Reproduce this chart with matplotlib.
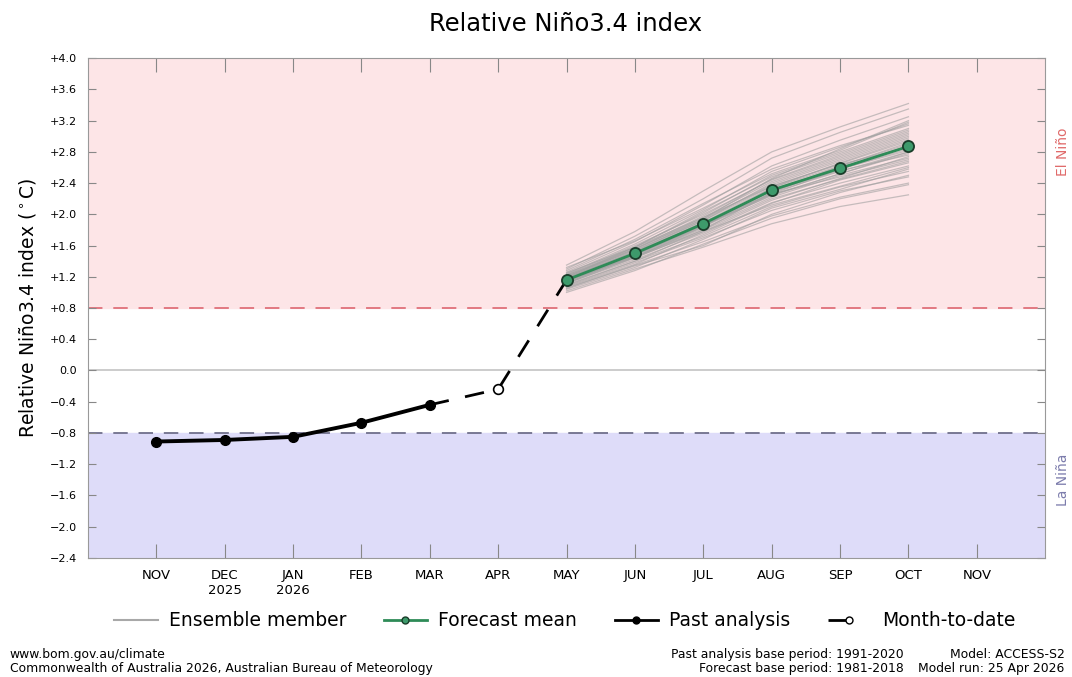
import matplotlib
matplotlib.use('Agg')
import matplotlib.pyplot as plt
from matplotlib.lines import Line2D
from matplotlib.ticker import FuncFormatter

# months on the x axis (0 = NOV 2025 ... 12 = NOV 2026)
month_labels = ['NOV', 'DEC\n2025', 'JAN\n2026', 'FEB', 'MAR', 'APR', 'MAY',
                'JUN', 'JUL', 'AUG', 'SEP', 'OCT', 'NOV']

past_months = [0, 1, 2, 3, 4]
past_values = [-0.91, -0.89, -0.85, -0.67, -0.44]

mtd_month = [5]
mtd_value = [-0.24]

forecast_months = [6, 7, 8, 9, 10, 11]
forecast_mean = [1.16, 1.50, 1.88, 2.31, 2.59, 2.87]

# ensemble members, MAY..OCT
ensemble_members = [
    [1.02, 1.30, 1.58, 1.88, 2.10, 2.25],
    [1.05, 1.35, 1.65, 1.98, 2.22, 2.40],
    [1.08, 1.38, 1.70, 2.05, 2.30, 2.48],
    [1.10, 1.40, 1.72, 2.10, 2.35, 2.55],
    [1.12, 1.42, 1.76, 2.15, 2.40, 2.62],
    [1.13, 1.44, 1.80, 2.20, 2.45, 2.68],
    [1.14, 1.46, 1.82, 2.22, 2.50, 2.72],
    [1.15, 1.47, 1.84, 2.25, 2.52, 2.78],
    [1.15, 1.48, 1.85, 2.28, 2.55, 2.80],
    [1.16, 1.49, 1.86, 2.30, 2.58, 2.84],
    [1.16, 1.50, 1.88, 2.32, 2.60, 2.88],
    [1.17, 1.51, 1.90, 2.34, 2.62, 2.90],
    [1.18, 1.52, 1.92, 2.36, 2.65, 2.94],
    [1.18, 1.53, 1.94, 2.38, 2.68, 2.98],
    [1.19, 1.55, 1.96, 2.42, 2.72, 3.02],
    [1.20, 1.56, 1.98, 2.45, 2.76, 3.06],
    [1.22, 1.58, 2.02, 2.50, 2.80, 3.10],
    [1.24, 1.62, 2.06, 2.55, 2.86, 3.16],
    [1.26, 1.65, 2.12, 2.62, 2.95, 3.25],
    [1.30, 1.72, 2.20, 2.72, 3.05, 3.35],
    [1.35, 1.78, 2.30, 2.80, 3.12, 3.42],
    [1.00, 1.28, 1.62, 1.95, 2.20, 2.38],
    [1.06, 1.34, 1.60, 2.00, 2.28, 2.50],
    [1.11, 1.45, 1.78, 2.12, 2.36, 2.60],
    [1.14, 1.50, 1.90, 2.26, 2.48, 2.70],
    [1.17, 1.46, 1.80, 2.28, 2.62, 2.92],
    [1.19, 1.52, 1.88, 2.30, 2.56, 2.76],
    [1.21, 1.54, 1.92, 2.40, 2.70, 3.00],
    [1.23, 1.60, 2.00, 2.44, 2.74, 3.04],
    [1.25, 1.58, 1.96, 2.36, 2.64, 2.86],
    [1.28, 1.68, 2.14, 2.58, 2.88, 3.14],
    [1.09, 1.40, 1.78, 2.18, 2.46, 2.74],
    [1.12, 1.48, 1.86, 2.26, 2.58, 2.82],
    [1.15, 1.45, 1.84, 2.34, 2.66, 2.96],
    [1.20, 1.58, 2.04, 2.48, 2.78, 3.08],
    [1.32, 1.66, 2.08, 2.52, 2.82, 3.18],
    [1.07, 1.36, 1.74, 2.14, 2.44, 2.66],
    [1.18, 1.50, 1.86, 2.24, 2.52, 2.80],
    [1.22, 1.56, 1.94, 2.46, 2.84, 3.20],
    [1.04, 1.32, 1.68, 2.08, 2.32, 2.58],
]

el_nino_threshold = 0.8
la_nina_threshold = -0.8
y_ticks = [-2.4, -2.0, -1.6, -1.2, -0.8, -0.4, 0.0, 0.4, 0.8, 1.2, 1.6,
           2.0, 2.4, 2.8, 3.2, 3.6, 4.0]

fig = plt.figure(figsize=(10.72, 6.77), dpi=100)
ax = fig.add_axes([0.082, 0.176, 0.893, 0.738])

xmin, xmax = -1, 13
ymin, ymax = -2.4, 4.0

# shaded regions
ax.axhspan(el_nino_threshold, ymax, color='#fde5e7', zorder=0)
ax.axhspan(ymin, la_nina_threshold, color='#dedcf9', zorder=0)
ax.axhline(el_nino_threshold, color='#e0707a', lw=1.3, dashes=(8, 6), zorder=1)
ax.axhline(la_nina_threshold, color='#70708c', lw=1.3, dashes=(8, 6), zorder=1)
ax.axhline(0.0, color='#c8c8c8', lw=1.3, zorder=1)

for member in ensemble_members:
    ax.plot(forecast_months, member, color='#a0a0a0', lw=0.9, alpha=0.6, zorder=2)

# dashed link past -> month-to-date -> forecast
ax.plot([past_months[-1], mtd_month[0], forecast_months[0]],
        [past_values[-1], mtd_value[0], forecast_mean[0]],
        color='black', lw=2, dashes=(7, 6), zorder=3)

ax.plot(past_months, past_values, color='black', lw=2.8, marker='o',
        markersize=7, zorder=4)
ax.plot(mtd_month, mtd_value, linestyle='none', marker='o', markersize=7,
        markerfacecolor='white', markeredgecolor='black', markeredgewidth=1.2,
        zorder=4)
ax.plot(forecast_months, forecast_mean, color='#2e8b57', lw=2, marker='o',
        markersize=8, markerfacecolor='#3d9a6b', markeredgecolor='#1a3d2a',
        markeredgewidth=1.3, zorder=5)

ax.set_xlim(xmin, xmax)
ax.set_ylim(ymin, ymax)
ax.set_xticks(range(len(month_labels)))
ax.set_xticklabels(month_labels, fontsize=9.5)
ax.set_yticks(y_ticks)
ax.yaxis.set_major_formatter(FuncFormatter(
    lambda v, p: '0.0' if abs(v) < 1e-9 else f'{v:+.1f}'.replace('-', '\u2212')))
ax.tick_params(axis='y', labelsize=8, direction='in', right=True, length=6,
               color='#888888', pad=8)
ax.tick_params(axis='x', direction='in', top=True, length=10, color='#888888',
               pad=8)
for sp in ax.spines.values():
    sp.set_color('#999999')

ax.set_ylabel('Relative Niño3.4 index ($^\\circ$C)', fontsize=13.5, labelpad=8)
fig.text(0.528, 0.965, 'Relative Niño3.4 index', ha='center', va='center',
         fontsize=17.5)

ax.text(1.0 + 18 / 957, (2.8 - ymin) / (ymax - ymin), 'El Niño',
        transform=ax.transAxes, rotation=90, ha='center', va='center',
        color='#e06a6a', fontsize=10)
ax.text(1.0 + 18 / 957, (-1.4 - ymin) / (ymax - ymin), 'La Niña',
        transform=ax.transAxes, rotation=90, ha='center', va='center',
        color='#7c7cac', fontsize=10)

handles = [
    Line2D([], [], color='#a8a8a8', lw=1.5),
    Line2D([], [], color='#2e8b57', lw=2, marker='o', markersize=5,
           markerfacecolor='#3d9a6b', markeredgecolor='#1a3d2a'),
    Line2D([], [], color='black', lw=2, marker='o', markersize=5),
    Line2D([], [], color='black', lw=2, marker='o', markersize=5,
           markerfacecolor='white', dashes=(7, 60)),
]
fig.legend(handles, ['Ensemble member', 'Forecast mean', 'Past analysis',
                     'Month-to-date'],
           loc='center', bbox_to_anchor=(0.527, 0.083), ncol=4, frameon=False,
           fontsize=13.5, handlelength=2.3, handletextpad=0.6,
           columnspacing=2.0)

foot = 8.9
fig.text(0.009, 0.033, 'www.bom.gov.au/climate', fontsize=foot, va='center')
fig.text(0.009, 0.013, 'Commonwealth of Australia 2026, Australian Bureau of Meteorology',
         fontsize=foot, va='center')
fig.text(0.843, 0.033, 'Past analysis base period: 1991-2020', fontsize=foot,
         va='center', ha='right')
fig.text(0.843, 0.013, 'Forecast base period: 1981-2018', fontsize=foot,
         va='center', ha='right')
fig.text(0.993, 0.033, 'Model: ACCESS-S2', fontsize=foot, va='center', ha='right')
fig.text(0.993, 0.013, 'Model run: 25 Apr 2026', fontsize=foot, va='center',
         ha='right')

fig.savefig('out.png', dpi=100)
